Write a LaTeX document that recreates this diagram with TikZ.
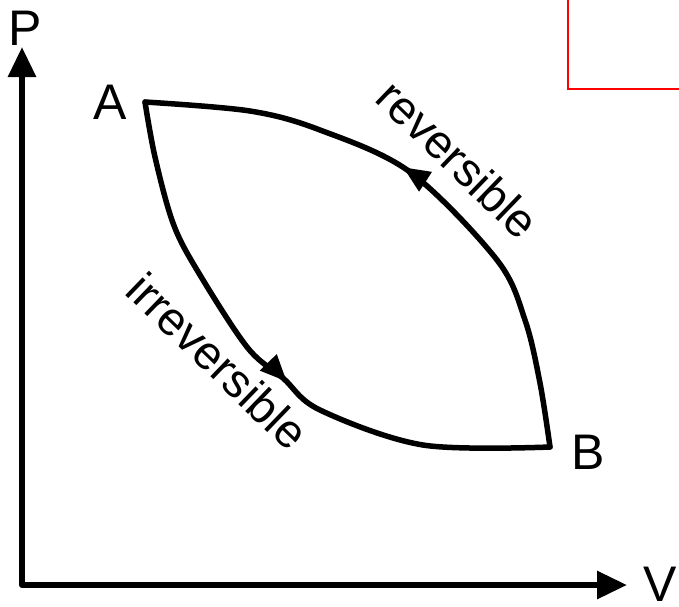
\documentclass[tikz,border=0pt]{standalone}
\usepackage{fontspec}
\setmainfont{Liberation Sans}
\usetikzlibrary{arrows.meta,decorations.markings}
\begin{document}
\begin{tikzpicture}[x=1pt,y=-1pt,
  axis/.style={line width=6pt,line join=round},
  curve/.style={line width=5.5pt,line join=round,line cap=round},
  midarrow/.style={postaction={decorate},decoration={markings,
    mark=at position #1 with {\arrow{Triangle[length=27pt,width=22pt]}}}},
  axlabel/.style={font=\fontsize{50}{54}\selectfont,inner sep=0pt},
  ptlabel/.style={font=\fontsize{50}{54}\selectfont,inner sep=0pt},
  proclabel/.style={font=\fontsize{47}{50}\selectfont,inner sep=0pt}]
\useasboundingbox (0,0) rectangle (679,606);
\fill[white] (0,0) rectangle (679,606);
% red frame (partially visible)
\draw[red,line width=2.4pt] (568,-10) -- (568,89) -- (690,89);
% axes
\coordinate (O) at (22,585);
\coordinate (Ptip) at (22,47);
\coordinate (Vtip) at (627,585);
\draw[axis,{Triangle[length=30pt,width=27pt]}-{Triangle[length=30pt,width=27pt]}] (Ptip) -- (O) -- (Vtip);
\node[axlabel] (P) at (25,28) {P};
\node[axlabel] (V) at (660,584) {V};
% states
\coordinate (A) at (145,102);
\coordinate (B) at (550,447);
\node[ptlabel] (Al) at (110,102) {A};
\node[ptlabel] (Bl) at (588,452) {B};
% reversible path B -> A
\draw[curve,midarrow=0.55] plot[smooth,tension=0.55] coordinates
  {(B) (540,383) (525,320) (497,260) (410,172) (320,130) (250,111) (A)};
% irreversible path A -> B
\draw[curve,midarrow=0.535] plot[smooth,tension=0.55] coordinates
  {(A) (155,157) (173,223) (197,270) (247,347) (283,378) (320,410) (423,445) (B)};
% labels
\node[proclabel,rotate=-44] (rev) at (458,159) {reversible};
\node[proclabel,rotate=-44] (irr) at (218,361) {irreversible};
\end{tikzpicture}
\end{document}
